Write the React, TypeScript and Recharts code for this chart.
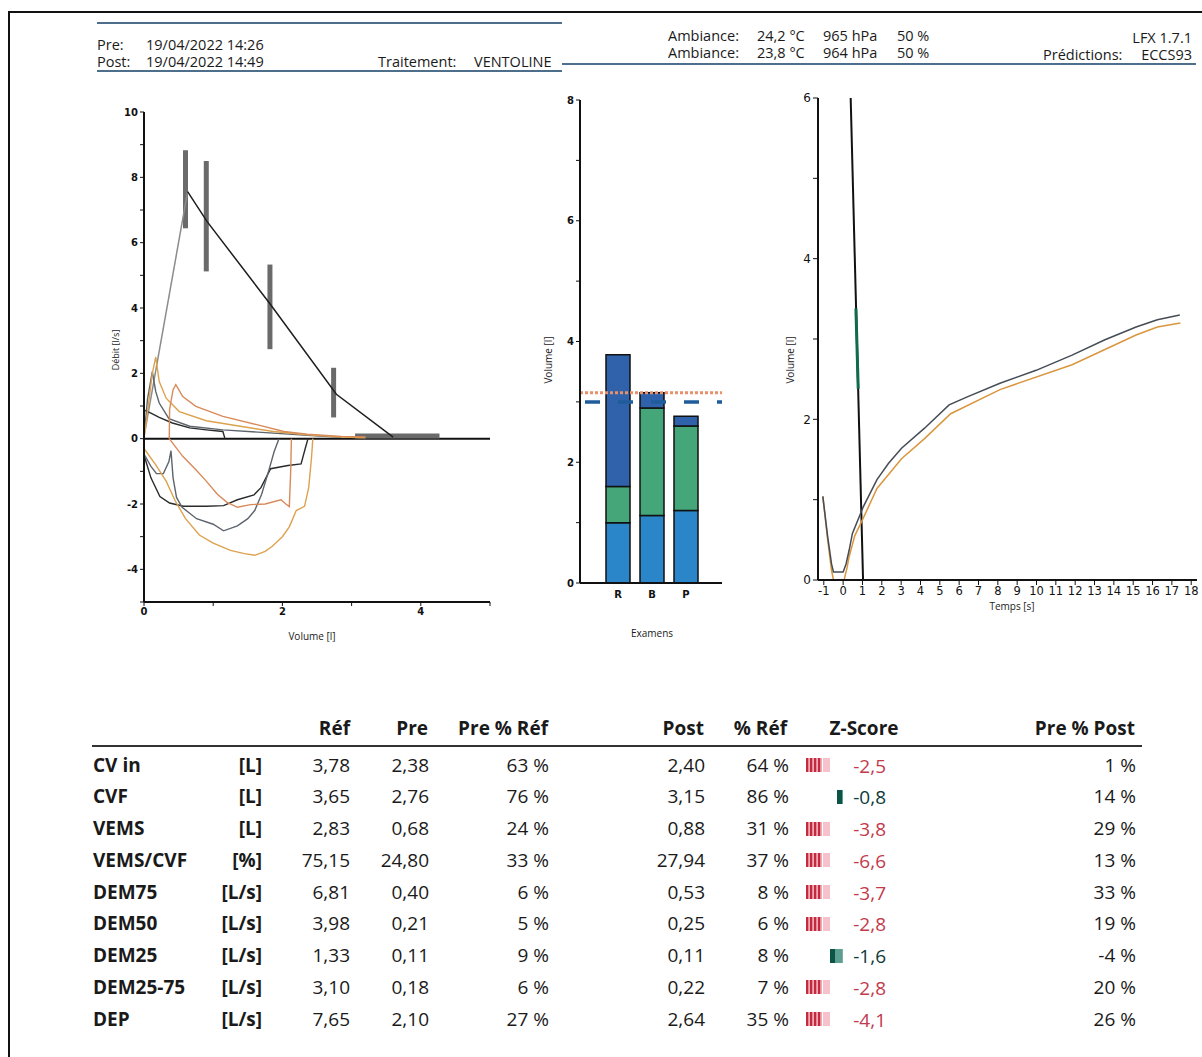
import React from 'react'
import { LineChart, Line, XAxis, YAxis, ReferenceLine, BarChart, Bar } from 'recharts'

const FONT = "'Open Sans', 'DejaVu Sans', sans-serif"
const AXIS_FONT = "'DejaVu Sans', sans-serif"

// ---- courbe débit / volume ----
const predRise = [{ v: 0.02, f: 0.3 }, { v: 0.63, f: 7.56 }]
const predFall = [
  { v: 0.63, f: 7.56 }, { v: 0.91, f: 6.65 }, { v: 1.82, f: 4.13 },
  { v: 2.78, f: 1.36 }, { v: 3.6, f: 0.05 },
]
// limites normales (DEP, DEM75, DEM50, DEM25, CVF)
const limDep = [{ v: 0.6, f: 6.44 }, { v: 0.6, f: 8.83 }]
const limDem75 = [{ v: 0.9, f: 5.12 }, { v: 0.9, f: 8.5 }]
const limDem50 = [{ v: 1.82, f: 2.74 }, { v: 1.82, f: 5.33 }]
const limDem25 = [{ v: 2.74, f: 0.65 }, { v: 2.74, f: 2.17 }]
const limCvf = [{ v: 3.05, f: 0.08 }, { v: 4.27, f: 0.08 }]

const expPre1 = [
  { v: 0, f: 0 }, { v: 0, f: 0.88 }, { v: 0.1, f: 0.78 }, { v: 0.22, f: 0.65 },
  { v: 0.41, f: 0.48 }, { v: 0.66, f: 0.33 }, { v: 0.9, f: 0.27 }, { v: 1.14, f: 0.22 },
  { v: 1.17, f: 0 },
]
const expPre2 = [
  { v: 0, f: 0 }, { v: 0.05, f: 1.2 }, { v: 0.12, f: 2.05 }, { v: 0.17, f: 1.44 },
  { v: 0.22, f: 1.09 }, { v: 0.36, f: 0.61 }, { v: 0.66, f: 0.38 }, { v: 1.14, f: 0.27 },
  { v: 1.87, f: 0.17 }, { v: 2.36, f: 0.1 }, { v: 2.85, f: 0.04 },
]
const expPost1 = [
  { v: 0, f: 0 }, { v: 0.05, f: 0.8 }, { v: 0.12, f: 2.0 }, { v: 0.17, f: 2.5 },
  { v: 0.22, f: 1.75 }, { v: 0.32, f: 1.24 }, { v: 0.51, f: 0.83 }, { v: 0.9, f: 0.55 },
  { v: 1.39, f: 0.38 }, { v: 1.87, f: 0.22 }, { v: 2.36, f: 0.12 }, { v: 2.85, f: 0.05 },
  { v: 3.2, f: 0.03 },
]
const expPost2 = [
  { v: 0.365, f: 0 }, { v: 0.37, f: 0.9 }, { v: 0.42, f: 1.5 }, { v: 0.46, f: 1.65 },
  { v: 0.56, f: 1.29 }, { v: 0.75, f: 0.99 }, { v: 1.14, f: 0.68 }, { v: 1.63, f: 0.43 },
  { v: 2.02, f: 0.22 }, { v: 2.36, f: 0.14 }, { v: 2.85, f: 0.07 }, { v: 3.2, f: 0.05 },
]
const insPre1 = [
  { v: 0, f: 0 }, { v: 0, f: -0.5 }, { v: 0.1, f: -1.2 }, { v: 0.23, f: -1.77 },
  { v: 0.37, f: -1.97 }, { v: 0.57, f: -2.07 }, { v: 0.9, f: -2.07 }, { v: 1.15, f: -2.05 },
  { v: 1.35, f: -1.87 }, { v: 1.59, f: -1.72 }, { v: 1.69, f: -1.5 }, { v: 1.83, f: -0.92 },
  { v: 2.08, f: -0.82 }, { v: 2.27, f: -0.77 }, { v: 2.33, f: -0.3 }, { v: 2.37, f: 0 },
]
const insPre2 = [
  { v: 0, f: 0 }, { v: 0, f: -0.47 }, { v: 0.1, f: -0.85 }, { v: 0.18, f: -1.07 },
  { v: 0.28, f: -1.07 }, { v: 0.36, f: -0.7 }, { v: 0.39, f: -0.37 }, { v: 0.42, f: -1.2 },
  { v: 0.47, f: -1.8 }, { v: 0.55, f: -2.1 }, { v: 0.76, f: -2.45 }, { v: 1.0, f: -2.62 },
  { v: 1.15, f: -2.82 }, { v: 1.35, f: -2.67 }, { v: 1.5, f: -2.45 }, { v: 1.6, f: -2.2 },
  { v: 1.7, f: -1.7 }, { v: 1.8, f: -1.0 }, { v: 1.88, f: -0.4 }, { v: 1.95, f: 0 },
]
const insPost1 = [
  { v: 0, f: 0 }, { v: 0, f: -0.3 }, { v: 0.17, f: -0.8 }, { v: 0.32, f: -1.3 },
  { v: 0.45, f: -1.9 }, { v: 0.6, f: -2.45 }, { v: 0.8, f: -2.95 }, { v: 1.0, f: -3.2 },
  { v: 1.25, f: -3.42 }, { v: 1.45, f: -3.52 }, { v: 1.6, f: -3.57 }, { v: 1.75, f: -3.45 },
  { v: 1.85, f: -3.3 }, { v: 2.0, f: -3.0 }, { v: 2.1, f: -2.7 }, { v: 2.2, f: -2.2 },
  { v: 2.32, f: -2.07 }, { v: 2.38, f: -1.5 }, { v: 2.42, f: -0.6 }, { v: 2.44, f: 0 },
]
const insPost2 = [
  { v: 0.365, f: 0 }, { v: 0.56, f: -0.54 }, { v: 0.75, f: -0.95 }, { v: 0.9, f: -1.3 },
  { v: 1.06, f: -1.7 }, { v: 1.2, f: -1.95 }, { v: 1.35, f: -2.1 }, { v: 1.54, f: -2.02 },
  { v: 1.75, f: -2.0 }, { v: 1.98, f: -1.87 }, { v: 2.05, f: -2.0 }, { v: 2.1, f: -2.08 },
  { v: 2.12, f: -1.0 }, { v: 2.13, f: 0 },
]
const flowTicks = [-5, -4, -3, -2, -1, 0, 1, 2, 3, 4, 5, 6, 7, 8, 9, 10]
const volTicks = [0, 1, 2, 3, 4, 5]

// ---- volumes par examen ----
const examCats = ['R', 'B', 'P']
const volBase = [1.0, 1.12, 1.2]
const volMid = [0.6, 1.78, 1.4]
const volTop = [2.18, 0.25, 0.16]
const cvfPostLine = 3.15
const cvfPredLine = 3.0
const examTicks = [0, 1, 2, 3, 4, 5, 6, 7, 8]

// ---- volume / temps ----
const vtPre = [
  { t: -1.05, vol: 1.04 }, { t: -0.8, vol: 0.54 }, { t: -0.6, vol: 0.2 }, { t: -0.5, vol: 0.1 },
  { t: 0.0, vol: 0.1 }, { t: 0.15, vol: 0.2 }, { t: 0.31, vol: 0.37 }, { t: 0.48, vol: 0.58 },
  { t: 1.04, vol: 0.91 }, { t: 1.75, vol: 1.25 }, { t: 2.34, vol: 1.45 }, { t: 3.02, vol: 1.64 },
  { t: 4.21, vol: 1.89 }, { t: 5.48, vol: 2.18 }, { t: 6.42, vol: 2.28 }, { t: 8.11, vol: 2.45 },
  { t: 9.98, vol: 2.61 }, { t: 11.84, vol: 2.8 }, { t: 13.54, vol: 2.99 }, { t: 15.15, vol: 3.15 },
  { t: 16.25, vol: 3.24 }, { t: 17.41, vol: 3.3 },
]
const vtPost = [
  { t: -1.05, vol: 1.04 }, { t: -0.8, vol: 0.5 }, { t: -0.6, vol: 0.12 }, { t: -0.5, vol: 0 },
  { t: 0.05, vol: 0 }, { t: 0.2, vol: 0.15 }, { t: 0.31, vol: 0.29 }, { t: 0.6, vol: 0.55 },
  { t: 1.04, vol: 0.77 }, { t: 1.75, vol: 1.14 }, { t: 3.02, vol: 1.51 }, { t: 4.21, vol: 1.76 },
  { t: 5.56, vol: 2.07 }, { t: 8.11, vol: 2.37 }, { t: 11.84, vol: 2.68 }, { t: 15.15, vol: 3.05 },
  { t: 16.25, vol: 3.15 }, { t: 17.44, vol: 3.2 },
]
const vtExtrap = [{ t: 0.39, vol: 6 }, { t: 1.03, vol: 0 }]
const vtExtrapZone = [{ t: 0.66, vol: 3.38 }, { t: 0.78, vol: 2.38 }]
const timeTicks = [-1, 0, 1, 2, 3, 4, 5, 6, 7, 8, 9, 10, 11, 12, 13, 14, 15, 16, 17, 18]
const vtVolTicks = [0, 1, 2, 3, 4, 5, 6]

// ---- tableau ----
const paramNames = ['CV in', 'CVF', 'VEMS', 'VEMS/CVF', 'DEM75', 'DEM50', 'DEM25', 'DEM25-75', 'DEP']
const paramUnits = ['[L]', '[L]', '[L]', '[%]', '[L/s]', '[L/s]', '[L/s]', '[L/s]', '[L/s]']
const refVals = [3.78, 3.65, 2.83, 75.15, 6.81, 3.98, 1.33, 3.1, 7.65]
const preVals = [2.38, 2.76, 0.68, 24.8, 0.4, 0.21, 0.11, 0.18, 2.1]
const prePctRef = [63, 76, 24, 33, 6, 5, 9, 6, 27]
const postVals = [2.4, 3.15, 0.88, 27.94, 0.53, 0.25, 0.11, 0.22, 2.64]
const postPctRef = [64, 86, 31, 37, 8, 6, 8, 7, 35]
const zScores = [-2.5, -0.8, -3.8, -6.6, -3.7, -2.8, -1.6, -2.8, -4.1]
const prePctPost = [1, 14, 29, 13, 33, 19, -4, 20, 26]

const dec = (n: number, d: number) => n.toFixed(d).replace('.', ',')
const evenOnly = (v: number) => (v % 2 === 0 ? String(v) : '')

const T = ({ x, y, size = 15, bold = false, anchor = 'start', color = '#1a1a1a', children }: any) => {
  const style: React.CSSProperties = {
    position: 'absolute',
    top: y - size * 0.5,
    fontSize: size,
    lineHeight: `${Math.round(size)}px`,
    fontWeight: bold ? 700 : 400,
    color,
    whiteSpace: 'nowrap',
    fontFamily: FONT,
  }
  if (anchor === 'end') style.right = 1202 - x
  else if (anchor === 'middle') { style.left = x; style.transform = 'translateX(-50%)' }
  else style.left = x
  return <div style={style}>{children}</div>
}

const VLabel = ({ x, y, size = 10, children }: any) => (
  <div style={{
    position: 'absolute', left: x, top: y, fontSize: size, fontFamily: FONT, color: '#222',
    transform: 'translate(-50%, -50%) rotate(-90deg)', whiteSpace: 'nowrap',
  }}>{children}</div>
)

const ZGlyph = ({ z, y }: { z: number; y: number }) => {
  const low = z <= -1.645
  if (low) {
    return (
      <svg style={{ position: 'absolute', left: 806, top: y - 7 }} width={28} height={14}>
        {[0, 4, 8, 12].map((s) => <rect key={s} x={s} y={0} width={2.6} height={14} fill="#c42a3e" />)}
        {[2.6, 6.6, 10.6, 14.6].map((s) => <rect key={s} x={s} y={0} width={1.4} height={14} fill="#f1a9b6" />)}
        <rect x={17} y={0} width={7} height={14} fill="#f6c3cc" />
      </svg>
    )
  }
  const w = Math.abs(z) * 8
  return (
    <svg style={{ position: 'absolute', left: 843 - w, top: y - 7 }} width={w} height={14}>
      <rect x={0} y={0} width={Math.min(w, 5)} height={14} fill="#0c5546" />
      {w > 6 && <rect x={5} y={0} width={w - 5} height={14} fill="#5c9f92" />}
    </svg>
  )
}

const axisTick = { fontSize: 10, fill: '#111', fontFamily: AXIS_FONT, fontWeight: 700 }

const FlowVolumeChart = () => (
  <div style={{ position: 'absolute', left: 90, top: 100 }}>
    <LineChart width={410} height={547} margin={{ top: 12, right: 10, bottom: 0, left: 0 }}>
      <XAxis type="number" dataKey="v" domain={[0, 5]} ticks={volTicks} tickFormatter={evenOnly}
        allowDataOverflow height={45} tick={axisTick} tickSize={4}
        axisLine={{ stroke: '#111', strokeWidth: 2 }} tickLine={{ stroke: '#111' }} />
      <YAxis type="number" domain={[-5, 10]} ticks={flowTicks} tickFormatter={evenOnly}
        allowDataOverflow width={54} tick={axisTick} tickSize={4}
        axisLine={{ stroke: '#111', strokeWidth: 2 }} tickLine={{ stroke: '#111' }} />
      <ReferenceLine y={0} stroke="#111" strokeWidth={2} />
      {[limDep, limDem75, limDem50, limDem25, limCvf].map((d, i) => (
        <Line key={i} data={d} dataKey="f" stroke="#6a6a6a" strokeWidth={5} dot={false}
          isAnimationActive={false} type="linear" />
      ))}
      <Line data={predRise} dataKey="f" stroke="#8c8c8c" strokeWidth={1.5} dot={false} isAnimationActive={false} type="linear" />
      <Line data={predFall} dataKey="f" stroke="#1e1e1e" strokeWidth={1.5} dot={false} isAnimationActive={false} type="linear" />
      <Line data={expPre1} dataKey="f" stroke="#2b2b2b" strokeWidth={1.4} dot={false} isAnimationActive={false} type="linear" />
      <Line data={expPre2} dataKey="f" stroke="#5d646c" strokeWidth={1.4} dot={false} isAnimationActive={false} type="linear" />
      <Line data={insPre1} dataKey="f" stroke="#2b2b2b" strokeWidth={1.4} dot={false} isAnimationActive={false} type="linear" />
      <Line data={insPre2} dataKey="f" stroke="#5d646c" strokeWidth={1.4} dot={false} isAnimationActive={false} type="linear" />
      <Line data={expPost1} dataKey="f" stroke="#dca24e" strokeWidth={1.4} dot={false} isAnimationActive={false} type="linear" />
      <Line data={expPost2} dataKey="f" stroke="#d98a5a" strokeWidth={1.4} dot={false} isAnimationActive={false} type="linear" />
      <Line data={insPost1} dataKey="f" stroke="#dca24e" strokeWidth={1.4} dot={false} isAnimationActive={false} type="linear" />
      <Line data={insPost2} dataKey="f" stroke="#d98a5a" strokeWidth={1.4} dot={false} isAnimationActive={false} type="linear" />
    </LineChart>
  </div>
)

const examRows = examCats.map((name, i) => ({ name, base: volBase[i], mid: volMid[i], top: volTop[i] }))

const ExamBarChart = () => (
  <div style={{ position: 'absolute', left: 520, top: 90 }}>
    <BarChart width={210} height={538} data={examRows} barSize={24}
      margin={{ top: 10, right: 8, bottom: 0, left: 0 }}>
      <XAxis dataKey="name" padding={{ left: 21, right: 19 }} height={45} tick={axisTick}
        tickLine={false} axisLine={{ stroke: '#111', strokeWidth: 2 }} />
      <YAxis type="number" domain={[0, 8]} ticks={examTicks} tickFormatter={evenOnly} width={60}
        tick={axisTick} tickSize={4} axisLine={{ stroke: '#111', strokeWidth: 2 }} tickLine={{ stroke: '#111' }} />
      <Bar dataKey="base" stackId="v" fill="#2a86c8" stroke="#111" strokeWidth={1.5} isAnimationActive={false} />
      <Bar dataKey="mid" stackId="v" fill="#44a679" stroke="#111" strokeWidth={1.5} isAnimationActive={false} />
      <Bar dataKey="top" stackId="v" fill="#2f62ab" stroke="#111" strokeWidth={1.5} isAnimationActive={false} />
      <ReferenceLine y={cvfPostLine} stroke="#e8916c" strokeWidth={3} strokeDasharray="3 2" />
      <ReferenceLine y={cvfPredLine} stroke="#1f5c9c" strokeWidth={3.5} strokeDasharray="15 18"
        strokeDashoffset={28} />
    </BarChart>
  </div>
)

const VolumeTimeChart = () => (
  <div style={{ position: 'absolute', left: 758, top: 88 }}>
    <LineChart width={444} height={532} margin={{ top: 10, right: 5, bottom: 0, left: 0 }}>
      <XAxis type="number" dataKey="t" domain={[-1.3, 18.3]} ticks={timeTicks} allowDataOverflow
        height={40} tick={{ fontSize: 11.5, fill: '#111', fontFamily: AXIS_FONT }} tickSize={5}
        axisLine={{ stroke: '#111', strokeWidth: 2 }} tickLine={{ stroke: '#111' }} interval={0} />
      <YAxis type="number" domain={[0, 6]} ticks={vtVolTicks} tickFormatter={evenOnly} allowDataOverflow
        width={60} tick={{ fontSize: 12, fill: '#111', fontFamily: AXIS_FONT }} tickSize={5}
        axisLine={{ stroke: '#111', strokeWidth: 2 }} tickLine={{ stroke: '#111' }} />
      <Line data={vtExtrap} dataKey="vol" stroke="#111" strokeWidth={2} dot={false} isAnimationActive={false} type="linear" />
      <Line data={vtExtrapZone} dataKey="vol" stroke="#0f6a4e" strokeWidth={3} dot={false} isAnimationActive={false} type="linear" />
      <Line data={vtPost} dataKey="vol" stroke="#d9963f" strokeWidth={1.5} dot={false} isAnimationActive={false} type="linear" />
      <Line data={vtPre} dataKey="vol" stroke="#454c55" strokeWidth={1.5} dot={false} isAnimationActive={false} type="linear" />
    </LineChart>
  </div>
)

export default function App() {
  const rowY = paramNames.map((_, i) => 765 + i * 31.75)
  return (
    <div style={{ position: 'absolute', left: 0, top: 0, width: 1202, height: 1057, background: '#fff', overflow: 'hidden', fontFamily: FONT }}>
      {/* cadre */}
      <div style={{ position: 'absolute', left: 8, top: 11, width: 1194, height: 2, background: '#111' }} />
      <div style={{ position: 'absolute', left: 8, top: 11, width: 2, height: 1046, background: '#111' }} />

      {/* en-tête */}
      <div style={{ position: 'absolute', left: 97, top: 22, width: 465, height: 1.5, background: '#4d6f8c' }} />
      <div style={{ position: 'absolute', left: 97, top: 70, width: 465, height: 1.5, background: '#4d6f8c' }} />
      <div style={{ position: 'absolute', left: 562, top: 63, width: 634, height: 1.5, background: '#4d6f8c' }} />
      <T x={97} y={44} size={14.5}>Pre:</T>
      <T x={146} y={44} size={14.5}>19/04/2022 14:26</T>
      <T x={97} y={61} size={14.5}>Post:</T>
      <T x={146} y={61} size={14.5}>19/04/2022 14:49</T>
      <T x={378} y={61} size={14.5}>Traitement:</T>
      <T x={474} y={61} size={14.5}>VENTOLINE</T>
      <T x={668} y={35} size={14.5}>Ambiance:</T>
      <T x={757} y={35} size={14.5}>24,2 °C</T>
      <T x={823} y={35} size={14.5}>965 hPa</T>
      <T x={897} y={35} size={14.5}>50 %</T>
      <T x={668} y={52} size={14.5}>Ambiance:</T>
      <T x={757} y={52} size={14.5}>23,8 °C</T>
      <T x={823} y={52} size={14.5}>964 hPa</T>
      <T x={897} y={52} size={14.5}>50 %</T>
      <T x={1192} y={37} size={14.5} anchor="end">LFX 1.7.1</T>
      <T x={1043} y={54} size={14.5}>Prédictions:</T>
      <T x={1192} y={54} size={14.5} anchor="end">ECCS93</T>

      <FlowVolumeChart />
      <ExamBarChart />
      <VolumeTimeChart />

      {/* titres des axes */}
      <VLabel x={115} y={350} size={9}>Débit [l/s]</VLabel>
      <T x={312} y={636} size={10} anchor="middle">Volume [l]</T>
      <VLabel x={548} y={360} size={10}>Volume [l]</VLabel>
      <T x={652} y={633} size={10} anchor="middle">Examens</T>
      <VLabel x={790} y={360} size={10}>Volume [l]</VLabel>
      <T x={1012} y={606} size={10} anchor="middle">Temps [s]</T>

      {/* tableau */}
      <T x={350} y={728} size={19} bold anchor="end">Réf</T>
      <T x={428} y={728} size={19} bold anchor="end">Pre</T>
      <T x={548} y={728} size={19} bold anchor="end">Pre % Réf</T>
      <T x={704} y={728} size={19} bold anchor="end">Post</T>
      <T x={787} y={728} size={19} bold anchor="end">% Réf</T>
      <T x={864} y={728} size={19} bold anchor="middle">Z-Score</T>
      <T x={1135} y={728} size={19} bold anchor="end">Pre % Post</T>
      <div style={{ position: 'absolute', left: 92, top: 745, width: 1050, height: 2, background: '#333' }} />
      {paramNames.map((name, i) => {
        const y = rowY[i]
        const z = zScores[i]
        const low = z <= -1.645
        return (
          <React.Fragment key={name}>
            <T x={93} y={y} size={19} bold>{name}</T>
            <T x={262} y={y} size={19} bold anchor="end">{paramUnits[i]}</T>
            <T x={350} y={y} size={19} anchor="end">{dec(refVals[i], 2)}</T>
            <T x={429} y={y} size={19} anchor="end">{dec(preVals[i], 2)}</T>
            <T x={549} y={y} size={19} anchor="end">{prePctRef[i]} %</T>
            <T x={705} y={y} size={19} anchor="end">{dec(postVals[i], 2)}</T>
            <T x={789} y={y} size={19} anchor="end">{postPctRef[i]} %</T>
            <ZGlyph z={z} y={y} />
            <T x={886} y={y + 1} size={19} anchor="end" color={low ? '#c23a4c' : '#0d3a3a'}>{dec(z, 1)}</T>
            <T x={1136} y={y} size={19} anchor="end">{prePctPost[i]} %</T>
          </React.Fragment>
        )
      })}
    </div>
  )
}
